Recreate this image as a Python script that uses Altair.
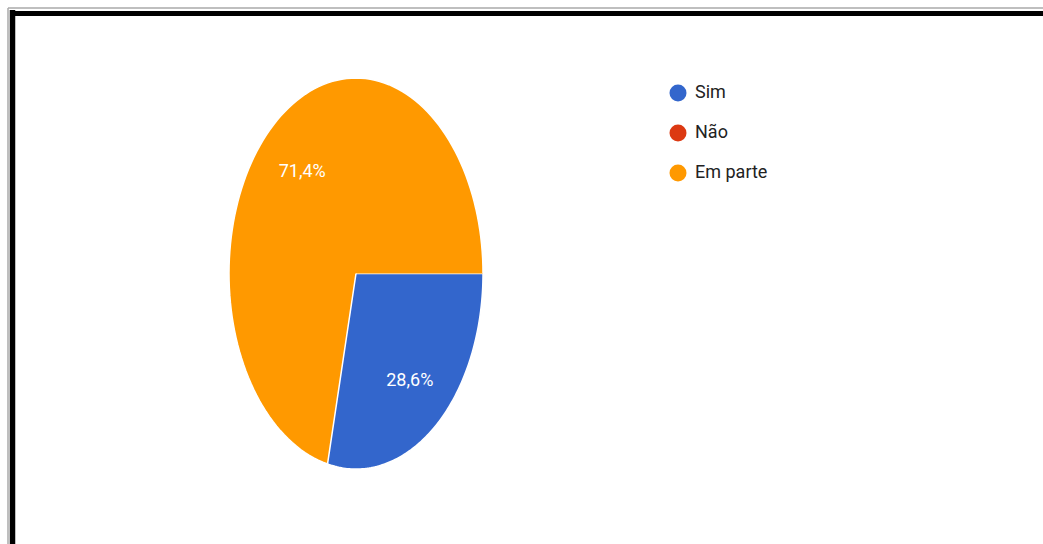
import altair as alt
import pandas as pd

categories = ["Sim", "Não", "Em parte"]
values = [28.6, 0.0, 71.4]
colors = ["#3366cc", "#dc3912", "#ff9900"]

df = pd.DataFrame({"cat": categories, "value": values, "ord": list(range(len(categories)))})

W, H = 1043, 544
CX, CY = 356, 273.5
RX, RY = 127, 195.5
START = 90  # degrees clockwise from 12 o'clock
N = 120

xscale = alt.Scale(domain=[-CX / RX, (W - CX) / RX], nice=False, zero=False)
yscale = alt.Scale(domain=[-(H - CY) / RY, CY / RY], nice=False, zero=False)
cscale = alt.Scale(domain=categories, range=colors)

base = (
    alt.Chart(df)
    .transform_joinaggregate(total="sum(value)")
    .transform_window(cum="sum(value)", sort=[alt.SortField("ord", order="ascending")], frame=[None, 0])
    .transform_calculate(
        a0=f"({START} + 360*(datum.cum - datum.value)/datum.total) * PI / 180",
        a1=f"({START} + 360*datum.cum/datum.total) * PI / 180",
    )
)

slices = (
    base.transform_filter("datum.value > 0")
    .transform_calculate(i=f"sequence(-1, {N + 1})")
    .transform_flatten(["i"])
    .transform_calculate(
        ang=f"datum.a0 + (datum.a1 - datum.a0) * datum.i / {N}",
    )
    .transform_calculate(
        px="datum.i < 0 ? 0 : sin(datum.ang)",
        py="datum.i < 0 ? 0 : cos(datum.ang)",
    )
    .mark_line(filled=True, stroke="white", strokeWidth=1.5, strokeJoin="round")
    .encode(
        x=alt.X("px:Q", scale=xscale, axis=None),
        y=alt.Y("py:Q", scale=yscale, axis=None),
        color=alt.Color(
            "cat:N",
            scale=cscale,
            legend=alt.Legend(
                title=None,
                orient="none",
                legendX=669,
                legendY=84,
                symbolType="circle",
                symbolSize=289,
                symbolStrokeWidth=0,
                labelFont="Roboto",
                labelFontSize=18,
                labelColor="#222222",
                rowPadding=22,
                labelOffset=8,
                padding=0,
            ),
        ),
        detail="cat:N",
        order=alt.Order("i:Q"),
    )
)

labels = (
    base.transform_filter("datum.value > 0")
    .transform_calculate(mid="(datum.a0 + datum.a1) / 2")
    .transform_calculate(
        lx="0.68 * sin(datum.mid)",
        ly="0.68 * cos(datum.mid)",
        txt="replace(format(100 * datum.value / datum.total, '.1f'), '.', ',') + '%'",
    )
    .mark_text(font="Roboto", fontSize=18, color="white", align="center", baseline="middle", dy=3)
    .encode(
        x=alt.X("lx:Q", scale=xscale, axis=None),
        y=alt.Y("ly:Q", scale=yscale, axis=None),
        text="txt:N",
    )
)

one = alt.Data(values=[{}])
frame_gray_v = alt.Chart(one).mark_rule(color="#aaaaaa", strokeWidth=1.5).encode(
    x=alt.value(8), x2=alt.value(8), y=alt.value(8), y2=alt.value(H)
)
frame_gray_h = alt.Chart(one).mark_rule(color="#aaaaaa", strokeWidth=1.5).encode(
    x=alt.value(8), x2=alt.value(W), y=alt.value(8), y2=alt.value(8)
)
frame_black_v = alt.Chart(one).mark_rule(color="black", strokeWidth=5.5).encode(
    x=alt.value(12.5), x2=alt.value(12.5), y=alt.value(10), y2=alt.value(H)
)
frame_black_h = alt.Chart(one).mark_rule(color="black", strokeWidth=5).encode(
    x=alt.value(10), x2=alt.value(W), y=alt.value(13.5), y2=alt.value(13.5)
)

chart = (
    alt.layer(slices, labels, frame_gray_v, frame_gray_h, frame_black_v, frame_black_h)
    .properties(width=W, height=H, padding=0, autosize=alt.AutoSizeParams(type="none"), background="white")
    .configure_view(stroke=None)
)

chart.save("out.html", embed_options={"renderer": "svg", "actions": False})
